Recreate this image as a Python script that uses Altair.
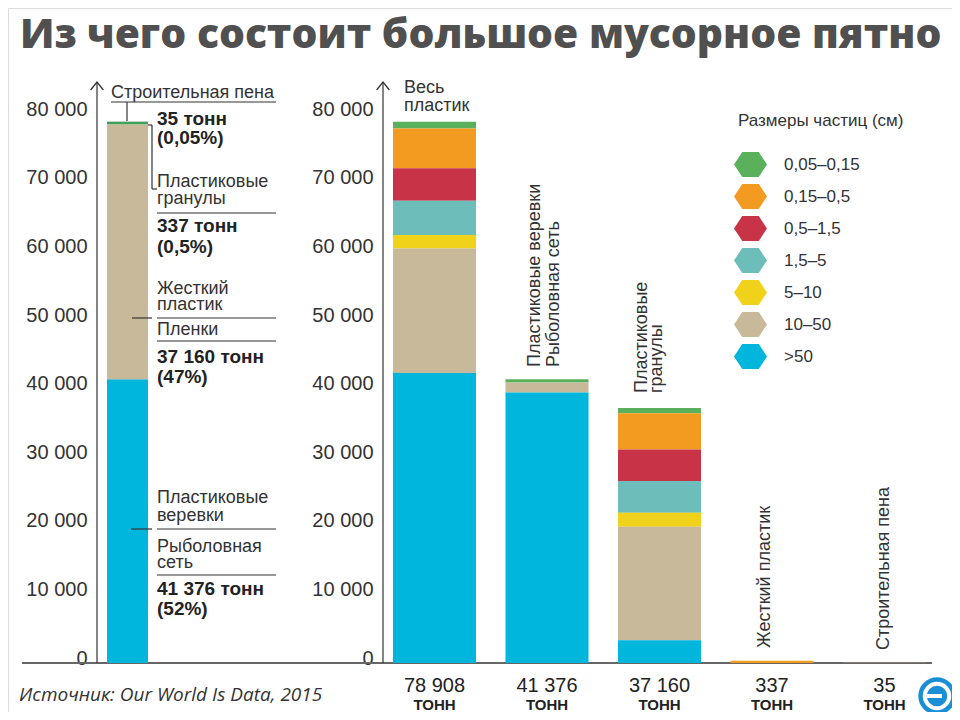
import altair as alt
import pandas as pd

# ---------------- data ----------------
size_classes = ["0,05–0,15", "0,15–0,5", "0,5–1,5", "1,5–5", "5–10", "10–50", ">50"]
size_colors = ["#5bb05b", "#f39b21", "#c83347", "#6dbdba", "#f0d21b", "#c8b99a", "#00b6dd"]

groups = ["Весь пластик", "Веревки и сети", "Гранулы", "Жесткий пластик", "Строительная пена"]
group_totals = ["78 908", "41 376", "37 160", "337", "35"]

# tonnes per size class (order of size_classes), per group
vals_all = [978, 5800, 4750, 4980, 1990, 18140, 42270]
vals_nets = [486, 0, 0, 0, 0, 1470, 39420]
vals_gran = [740, 5310, 4590, 4630, 2030, 16530, 3330]
vals_hard = [0, 337, 0, 0, 0, 0, 0]
vals_foam = [0, 0, 0, 0, 0, 35, 0]
group_vals = [vals_all, vals_nets, vals_gran, vals_hard, vals_foam]

left_types = ["Веревки и сети", "Жесткий пластик и пленки", "Гранулы", "Строительная пена"]
left_values = [41376, 37160, 337, 35]
left_colors = ["#00b6dd", "#c8b99a", "#3ca35c", "#24453a"]

y_ticks = [0, 10000, 20000, 30000, 40000, 50000, 60000, 70000, 80000]

# ---------------- tables ----------------
rows = []
for g, vals in zip(groups, group_vals):
    for i, (s, v) in enumerate(zip(size_classes, vals)):
        if v > 0:
            rows.append({"group": g, "size": s, "value": v, "ord": len(size_classes) - i})
df_right = pd.DataFrame(rows)
df_totals = pd.DataFrame({"group": groups, "total": group_totals})
df_left = pd.DataFrame({"col": ["all"] * len(left_types), "type": left_types,
                        "value": left_values, "color": left_colors,
                        "ord": list(range(len(left_types)))})

one = pd.DataFrame({"k": [0]})
FONT = "Liberation Sans"
INK = "#333333"


def P(v):
    return v - 8


def txt(s, x, y, size=18, weight="normal", angle=0, align="left", baseline="alphabetic",
        color=INK, font=FONT, style="normal"):
    return alt.Chart(one).mark_text(
        text=s, align=align, baseline=baseline, fontSize=size, fontWeight=weight,
        angle=angle, color=color, font=font, fontStyle=style
    ).encode(x=alt.value(P(x)), y=alt.value(P(y)))


def hline(x1, x2, y, color=INK, w=1.2):
    return alt.Chart(one).mark_rule(color=color, strokeWidth=w).encode(
        x=alt.value(P(x1)), x2=alt.value(P(x2)), y=alt.value(P(y)))


def vline(x, y1, y2, color=INK, w=1.2):
    return alt.Chart(one).mark_rule(color=color, strokeWidth=w).encode(
        x=alt.value(P(x)), y=alt.value(P(y1)), y2=alt.value(P(y2)))


def arrow(x, y):
    return alt.Chart(one).mark_point(
        shape="M-0.8,1L0,0L0.8,1", filled=False, size=256, strokeWidth=1.3,
        color=INK, opacity=1
    ).encode(x=alt.value(P(x)), y=alt.value(P(y)))


Y_RANGE = [P(663), P(663 - 548.8)]
label_expr = "replace(format(datum.value, ','), ',', ' ')"


def yaxis(axis_x):
    return alt.Axis(orient="left", offset=-P(axis_x), values=y_ticks, labelExpr=label_expr,
                    domain=False, ticks=False, grid=False, labelPadding=10,
                    labelFontSize=20, labelFont=FONT, labelColor=INK, labelOffset=-5,
                    labelBaseline="middle", title=None)


# ---------------- page furniture (drawn first, behind bars) ----------------
baseline = hline(22, 932, 663, color="#666666", w=2)

# ---------------- left panel ----------------
left_bar = alt.Chart(df_left).mark_bar().encode(
    x=alt.X("col:N", axis=None,
            scale=alt.Scale(domain=["all"], range=[P(107), P(148)], paddingInner=0, paddingOuter=0)),
    y=alt.Y("value:Q", stack="zero", scale=alt.Scale(domain=[0, 80000], range=Y_RANGE),
            axis=yaxis(97)),
    color=alt.Color("color:N", scale=None),
    order=alt.Order("ord:Q", sort="ascending"),
)

BOLD = "#222222"
left_ann = [
    vline(97, 82, 663), arrow(97, 82),
    txt("Строительная пена", 111, 97.5),
    hline(111, 276, 102), vline(127, 102, 121),
    txt("35 тонн", 157, 125, size=19, weight="bold", color=BOLD),
    txt("(0,05%)", 157, 144, size=19, weight="bold", color=BOLD),
    hline(148, 152, 125), vline(152, 125, 189), hline(152, 157, 189),
    txt("Пластиковые", 157, 187), txt("гранулы", 157, 203.5),
    hline(157, 276, 213),
    txt("337 тонн", 157, 231.5, size=19, weight="bold", color=BOLD),
    txt("(0,5%)", 157, 253, size=19, weight="bold", color=BOLD),
    txt("Жесткий", 157, 294), txt("пластик", 157, 309.5),
    hline(132, 152, 318), hline(157, 276, 318),
    txt("Пленки", 157, 335), hline(157, 276, 341),
    txt("37 160 тонн", 157, 363, size=19, weight="bold", color=BOLD),
    txt("(47%)", 157, 383, size=19, weight="bold", color=BOLD),
    txt("Пластиковые", 157, 503), txt("веревки", 157, 520.5),
    hline(131, 152, 529), hline(157, 276, 529),
    txt("Рыболовная", 157, 552), txt("сеть", 157, 568),
    hline(157, 276, 575),
    txt("41 376 тонн", 157, 595, size=19, weight="bold", color=BOLD),
    txt("(52%)", 157, 615, size=19, weight="bold", color=BOLD),
]
left_group = alt.layer(left_bar, *left_ann)

# ---------------- right panel ----------------
hexagon = "M-1.32,0L-0.66,-1L0.66,-1L1.32,0L0.66,1L-0.66,1Z"
x_right = alt.X("group:N", axis=None, sort=groups,
                scale=alt.Scale(domain=groups, range=[P(393), P(926)],
                                paddingInner=0.2622, paddingOuter=0))

bars = alt.Chart(df_right).mark_bar().encode(
    x=x_right,
    y=alt.Y("value:Q", stack="zero", scale=alt.Scale(domain=[0, 80000], range=Y_RANGE),
            axis=yaxis(383)),
    color=alt.Color("size:N", scale=alt.Scale(domain=size_classes, range=size_colors),
                    legend=alt.Legend(
                        orient="none", legendX=P(738), legendY=P(113),
                        title="Размеры частиц (см)", titleFont=FONT, titleFontSize=17,
                        titleFontWeight="normal", titleColor=INK, titlePadding=22,
                        symbolType=hexagon, symbolSize=625, symbolStrokeWidth=0,
                        symbolOpacity=1, labelFont=FONT, labelFontSize=17,
                        labelColor=INK, labelOffset=21, rowPadding=7, padding=0)),
    order=alt.Order("ord:Q", sort="ascending"),
)

totals = alt.Chart(df_totals).mark_text(
    fontSize=20, font=FONT, color=BOLD, baseline="alphabetic"
).encode(x=x_right, y=alt.value(P(692)), text="total:N")

tonn = alt.Chart(df_totals).mark_text(
    text="ТОНН", fontSize=15, fontWeight="bold", font=FONT, color=BOLD, baseline="alphabetic"
).encode(x=x_right, y=alt.value(P(710)))

right_ann = [
    vline(383, 82, 663), arrow(383, 82),
    txt("Весь", 404, 93), txt("пластик", 404, 111),
    txt("Пластиковые веревки", 535, 367, angle=270, baseline="middle"),
    txt("Рыболовная сеть", 554, 367, angle=270, baseline="middle"),
    txt("Пластиковые", 641.5, 393, angle=270, baseline="middle"),
    txt("гранулы", 657, 393, angle=270, baseline="middle"),
    txt("Жесткий пластик", 765, 648, angle=270, baseline="middle"),
    txt("Строительная пена", 883.5, 650, angle=270, baseline="middle"),
]
right_group = alt.layer(bars, totals, tonn, *right_ann)

title = txt("Из чего состоит большое мусорное пятно", 20, 48, size=40.8, weight=800,
            color="#505050", font="Open Sans")
source = txt("Источник: Our World Is Data, 2015", 19, 700.7, size=19, style="italic",
             font="Open Sans", color=INK)
logo_disc = alt.Chart(one).mark_point(shape="circle", filled=True, size=1400, color="#1a8fd6",
                                      opacity=1).encode(x=alt.value(P(937)), y=alt.value(P(696)))
logo_ring = alt.Chart(one).mark_point(shape="circle", filled=False, size=600, color="white",
                                      strokeWidth=4, opacity=1).encode(x=alt.value(P(937)), y=alt.value(P(696)))
logo_bar = hline(925, 942, 696, color="white", w=4)

chart = alt.layer(
    baseline, left_group, right_group, title, source, logo_disc, logo_ring, logo_bar
).resolve_scale(
    x="independent", y="independent", color="independent"
).properties(
    width=944, height=704, padding=0, autosize=alt.AutoSizeParams(type="none")
).configure_view(stroke=None).configure(background="white")

chart.save("out.html", embed_options={"renderer": "svg", "actions": False})
